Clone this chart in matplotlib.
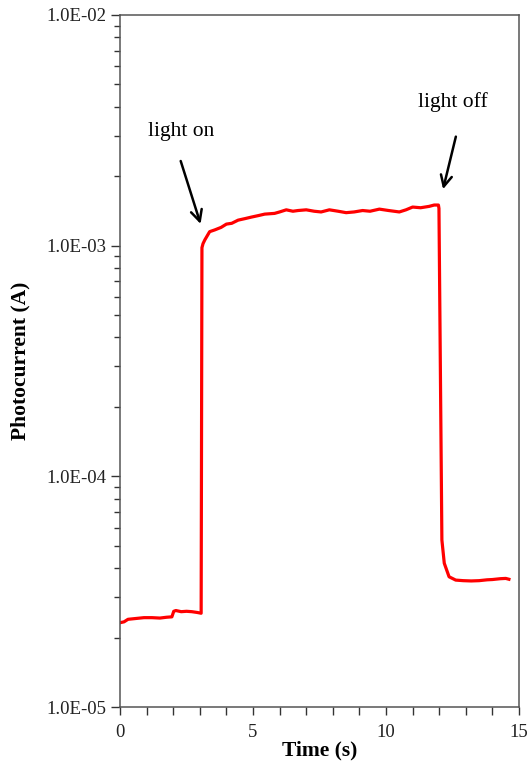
import matplotlib
matplotlib.use("Agg")
import matplotlib.pyplot as plt
from matplotlib.ticker import LogLocator, FuncFormatter, MultipleLocator

plt.rcParams['font.family'] = ['Liberation Serif', 'DejaVu Serif']

# photocurrent response
time_s = [0.0, 0.15, 0.3, 0.6, 0.9, 1.2, 1.5, 1.75, 1.95, 2.02, 2.1, 2.3, 2.5, 2.7,
          2.9, 3.05, 3.08, 3.12, 3.19, 3.37, 3.56, 3.8, 4.0, 4.2, 4.44, 4.7, 4.94,
          5.2, 5.44, 5.81, 6.0, 6.25, 6.5, 6.69, 7.0, 7.3, 7.56, 7.87, 8.2, 8.5,
          8.8, 9.12, 9.4, 9.75, 10.1, 10.5, 10.75, 11.0, 11.3, 11.62, 11.81, 11.97,
          11.99, 12.1, 12.19, 12.37, 12.62, 12.9, 13.2, 13.5, 13.8, 14.0, 14.3,
          14.5, 14.62]
current_a = [2.32e-5, 2.34e-5, 2.40e-5, 2.42e-5, 2.44e-5, 2.44e-5, 2.43e-5, 2.45e-5,
             2.46e-5, 2.60e-5, 2.62e-5, 2.59e-5, 2.60e-5, 2.59e-5, 2.57e-5, 2.55e-5,
             9.8e-4, 1.02e-3, 1.06e-3, 1.15e-3, 1.17e-3, 1.20e-3, 1.24e-3, 1.25e-3,
             1.29e-3, 1.31e-3, 1.33e-3, 1.35e-3, 1.37e-3, 1.38e-3, 1.40e-3, 1.43e-3,
             1.41e-3, 1.42e-3, 1.43e-3, 1.41e-3, 1.40e-3, 1.43e-3, 1.41e-3, 1.39e-3,
             1.40e-3, 1.42e-3, 1.41e-3, 1.44e-3, 1.42e-3, 1.40e-3, 1.43e-3, 1.47e-3,
             1.46e-3, 1.48e-3, 1.50e-3, 1.50e-3, 1.45e-3, 5.3e-5, 4.2e-5, 3.67e-5,
             3.55e-5, 3.53e-5, 3.52e-5, 3.53e-5, 3.56e-5, 3.57e-5, 3.60e-5, 3.61e-5,
             3.58e-5]

fig = plt.figure(figsize=(5.28, 7.68), dpi=100)
ax = fig.add_axes([0.2273, 0.0794, 0.7557, 0.9011])

ax.plot(time_s, current_a, color='red', lw=2.3, solid_joinstyle='round')

ax.set_yscale('log')
ax.set_xlim(0, 15)
ax.set_ylim(1e-5, 1e-2)
ax.xaxis.set_major_locator(MultipleLocator(5))
ax.xaxis.set_minor_locator(MultipleLocator(1))
ax.yaxis.set_major_locator(LogLocator(base=10, numticks=10))
ax.yaxis.set_minor_locator(LogLocator(base=10, subs=range(2, 10), numticks=20))
ax.yaxis.set_major_formatter(FuncFormatter(lambda v, p: f"{v:.1E}"))
ax.yaxis.set_minor_formatter(FuncFormatter(lambda v, p: ""))

for s in ax.spines.values():
    s.set_color('#555555')
    s.set_linewidth(1.1)
ax.tick_params(which='both', direction='out', color='#333333', width=1.0,
               top=False, right=False, labelsize=13.5, labelcolor='#222222')
ax.tick_params(axis='y', which='major', length=6.5, pad=3.5)
ax.tick_params(axis='y', which='minor', length=4.5)
ax.tick_params(axis='x', which='both', length=5.5, pad=7)

ax.set_xlabel('Time (s)', fontsize=15.5, fontweight='bold', labelpad=-1)
ax.set_ylabel('Photocurrent (A)', fontsize=15.5, fontweight='bold', labelpad=11)

arrow = dict(arrowstyle='->', color='black', lw=1.8, mutation_scale=20)
ax.annotate('', xy=(3.06, 1.21e-3), xytext=(2.25, 2.39e-3), arrowprops=arrow)
ax.text(2.31, 3.12e-3, 'light on', fontsize=15.5, ha='center', va='center')
ax.annotate('', xy=(12.12, 1.71e-3), xytext=(12.65, 3.05e-3), arrowprops=arrow)
ax.text(12.5, 4.21e-3, 'light off', fontsize=15.5, ha='center', va='center')

fig.savefig('out.png', dpi=100)
